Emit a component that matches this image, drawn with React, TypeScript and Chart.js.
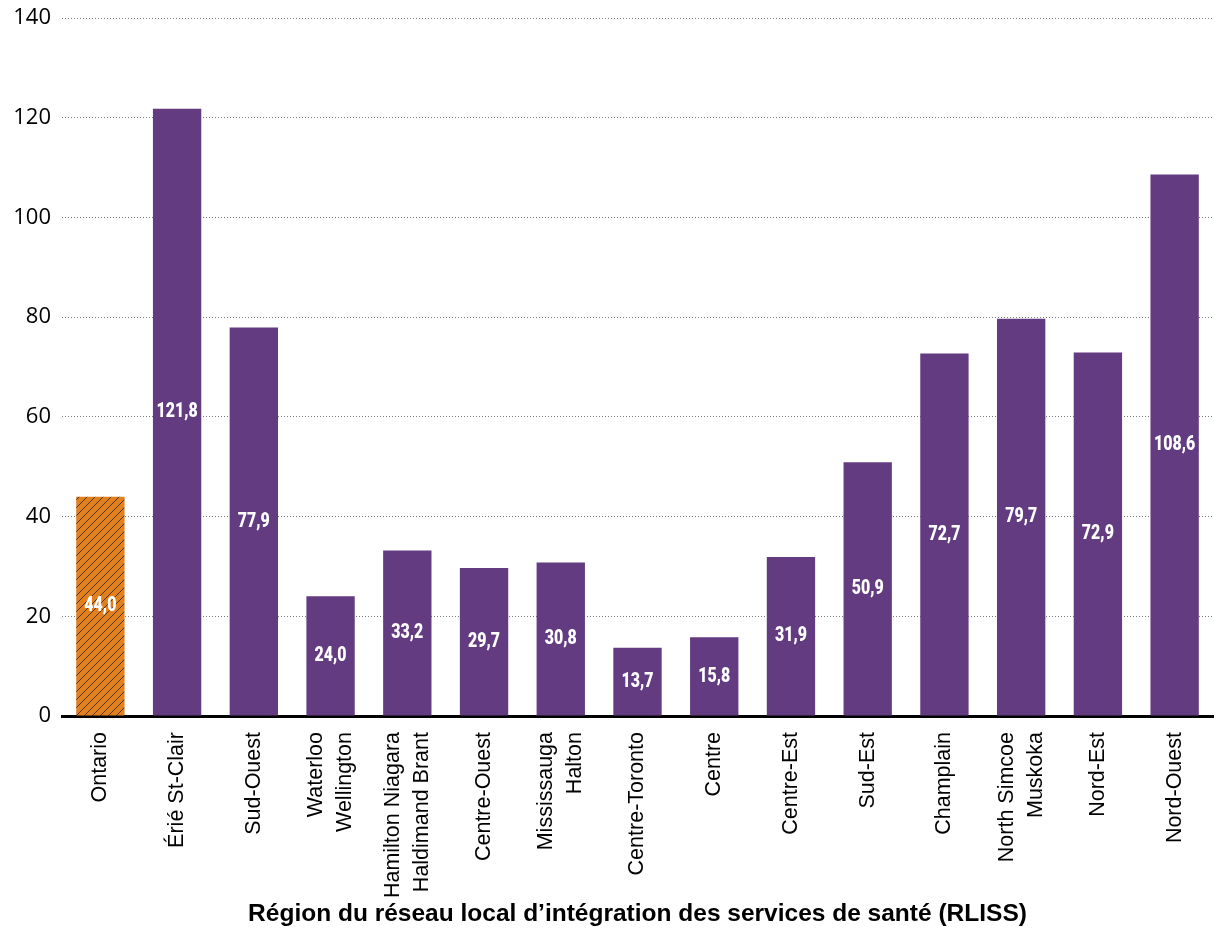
import React, { useEffect, useRef } from "react";
import { Chart, registerables } from "chart.js";

Chart.register(...registerables);

const categories: (string | string[])[] = [
  "Ontario",
  "Érié St-Clair",
  "Sud-Ouest",
  ["Waterloo", "Wellington"],
  ["Hamilton Niagara", "Haldimand Brant"],
  "Centre-Ouest",
  ["Mississauga", "Halton"],
  "Centre-Toronto",
  "Centre",
  "Centre-Est",
  "Sud-Est",
  "Champlain",
  ["North Simcoe", "Muskoka"],
  "Nord-Est",
  "Nord-Ouest",
];
const values: number[] = [44.0, 121.8, 77.9, 24.0, 33.2, 29.7, 30.8, 13.7, 15.8, 31.9, 50.9, 72.7, 79.7, 72.9, 108.6];
const axisTitle = "Région du réseau local d’intégration des services de santé (RLISS)";
const yMax = 140;
const yStep = 20;

const PURPLE = "#633b80";
const ORANGE = "#e0801f";

function makeHatch(): CanvasPattern | string {
  const c = document.createElement("canvas");
  c.width = 8;
  c.height = 8;
  const ctx = c.getContext("2d");
  if (!ctx) return ORANGE;
  ctx.fillStyle = ORANGE;
  ctx.fillRect(0, 0, 8, 8);
  ctx.strokeStyle = "#5a3210";
  ctx.lineWidth = 1;
  ctx.beginPath();
  ctx.moveTo(0, 8);
  ctx.lineTo(8, 0);
  ctx.moveTo(-4, 4);
  ctx.lineTo(4, -4);
  ctx.moveTo(4, 12);
  ctx.lineTo(12, 4);
  ctx.stroke();
  const p = ctx.createPattern(c, "repeat");
  return p || ORANGE;
}

const valueLabels = {
  id: "valueLabels",
  afterDatasetsDraw(chart: any) {
    const ctx = chart.ctx;
    const meta = chart.getDatasetMeta(0);
    ctx.save();
    ctx.fillStyle = "#ffffff";
    ctx.font = "900 21px 'Roboto', sans-serif";
    ctx.textAlign = "center";
    ctx.textBaseline = "middle";
    meta.data.forEach((bar: any, i: number) => {
      const v = values[i];
      const y = (bar.y + bar.base) / 2;
      ctx.save();
      ctx.translate(bar.x, y);
      ctx.scale(0.76, 1);
      ctx.fillText(v.toFixed(1).replace(".", ","), 0, 0);
      ctx.restore();
    });
    ctx.restore();
  },
};

// center multi-line rotated x labels on their category
const centerLines = {
  id: "centerLines",
  beforeDraw(chart: any) {
    const scale = chart.scales.x;
    const items = scale.getLabelItems(chart.chartArea);
    items.forEach((it: any) => {
      if (it._origOffset === undefined) it._origOffset = it.textOffset;
      const n = Array.isArray(it.label) ? it.label.length : 1;
      const lh = it.font.lineHeight;
      it.textOffset = it._origOffset - ((n - 1) * lh) / 2;
    });
  },
};

export default function App() {
  const ref = useRef<HTMLCanvasElement | null>(null);
  useEffect(() => {
    if (!ref.current) return;
    const hatch = makeHatch();
    const colors = values.map((_, i) => (i === 0 ? hatch : PURPLE));
    const chart = new Chart(ref.current, {
      type: "bar",
      data: {
        labels: categories,
        datasets: [
          {
            data: values,
            backgroundColor: colors as any,
            categoryPercentage: 1,
            barPercentage: 0.63,
          },
        ],
      },
      options: {
        animation: false,
        responsive: false,
        maintainAspectRatio: false,
        layout: { padding: { left: 0, right: 4, top: 18, bottom: 0 } },
        plugins: { legend: { display: false }, tooltip: { enabled: false } },
        scales: {
          x: {
            grid: { display: false, drawTicks: false },
            border: { display: true, color: "#000000", width: 3 },
            ticks: {
              color: "#000000",
              font: { family: "'Liberation Sans', Arial, sans-serif", size: 21.5, lineHeight: 1.35 },
              minRotation: 90,
              maxRotation: 90,
              autoSkip: false,
              padding: 16,
            },
            title: {
              display: true,
              text: axisTitle,
              color: "#000000",
              font: { family: "'Liberation Sans', Arial, sans-serif", size: 24.5, weight: "bold" },
              padding: { top: 0, bottom: 23 },
            },
            afterFit(scale: any) {
              scale.height = 236;
              scale.paddingLeft = 0;
              scale.paddingRight = 0;
            },
          },
          y: {
            min: 0,
            max: yMax,
            grid: {
              color: "#777777",
              lineWidth: 1,
              drawTicks: false,
            },
            border: { display: false, dash: [1, 2] },
            ticks: {
              stepSize: yStep,
              color: "#000000",
              font: { family: "'Open Sans', sans-serif", size: 22 },
              padding: 11,
            },
            afterFit(scale: any) {
              scale.width = 62;
              scale.paddingTop = 0;
              scale.paddingBottom = 0;
            },
          },
        },
      },
      plugins: [valueLabels, centerLines],
    });
    return () => chart.destroy();
  }, []);
  return (
    <div style={{ position: "absolute", left: 0, top: 0, width: 1217, height: 952, background: "#fff" }}>
      <canvas ref={ref} width={1217} height={952} style={{ width: 1217, height: 952 }} />
    </div>
  );
}
